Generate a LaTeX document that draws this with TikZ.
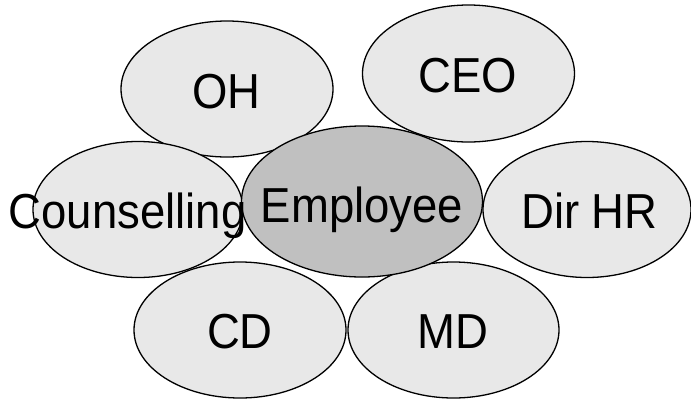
\documentclass[tikz,border=0pt]{standalone}
\usepackage{fontspec}
\setmainfont{Liberation Sans}
\usetikzlibrary{shapes.geometric}
\definecolor{lightfill}{HTML}{E8E8E8}
\definecolor{darkfill}{HTML}{C0C0C0}
\newcommand{\tallt}[1]{\scalebox{1}[1.08]{#1}}
\begin{document}
\begin{tikzpicture}[x=1pt,y=-1pt,
  oval/.style={ellipse,draw=black,line width=1.3pt,fill=lightfill,inner sep=0pt,minimum width=212pt,minimum height=136pt},
  lbl/.style={anchor=base,inner sep=0pt,font=\fontsize{45.5}{50}\selectfont}]
\useasboundingbox (0,0) rectangle (691,400);
\node[oval] (oh) at (227,89) {};
\node[oval,minimum height=137pt] (ceo) at (468.5,73.5) {};
\node[oval,minimum width=210pt] (couns) at (138,209.5) {};
\node[oval,minimum width=208pt] (dirhr) at (587,209.5) {};
\node[oval] (cd) at (240,330) {};
\node[oval,minimum width=211pt] (md) at (453.5,330) {};
\node[oval,fill=darkfill,minimum width=241pt,minimum height=151pt] (emp) at (362,201.5) {};
\node[lbl] (tOH) at (226.5,108) {\tallt{OH}};
\node[lbl] (tCEO) at (468,92) {\tallt{CEO}};
\node[lbl] (tCouns) at (127.5,228) {\tallt{Counselling}};
\node[lbl] (tEmp) at (362,222) {\tallt{Employee}};
\node[lbl] (tDir) at (589.5,228) {\tallt{Dir HR}};
\node[lbl] (tCD) at (240,348) {\tallt{CD}};
\node[lbl] (tMD) at (452.5,348) {\tallt{MD}};
\end{tikzpicture}
\end{document}
